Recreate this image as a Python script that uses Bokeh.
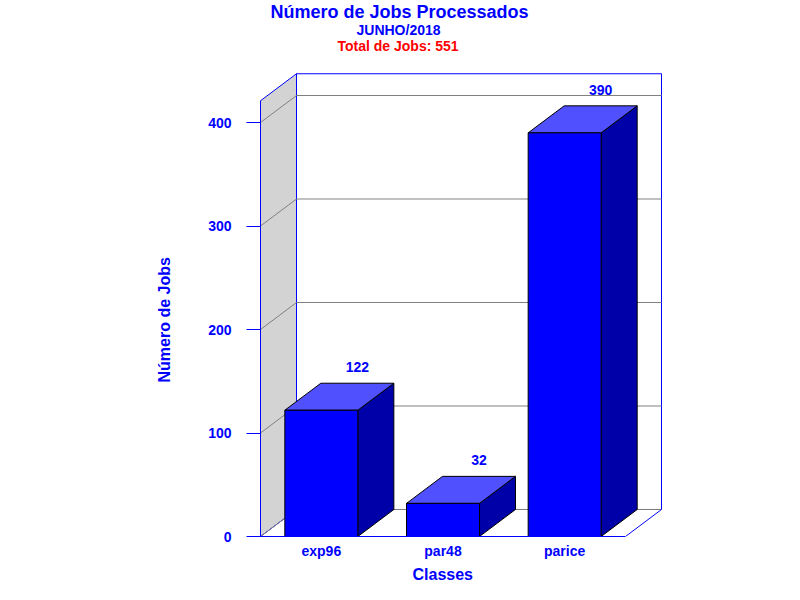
from bokeh.plotting import figure
from bokeh.models import FixedTicker, Title, Range1d
from bokeh.embed import file_html
from bokeh.resources import INLINE
from bokeh.core.properties import value

# ---- data ----
categories = ["exp96", "par48", "parice"]
jobs = [122, 32, 390]
y_ticks = [0, 100, 200, 300, 400]
y_top = 421
title_main = "Número de Jobs Processados"
subtitle = "JUNHO/2018"
total_text = "Total de Jobs: 551"
y_label = "Número de Jobs"
x_label = "Classes"

# ---- style / 3D geometry ----
FONT = "Liberation Sans"
BLUE = "#0000ff"
DX = 0.296      # depth offset in category units
DY = 26.1       # depth offset in value units
BW = 0.6        # bar width in category units
n = len(categories)
x0, x1 = -0.5, n - 0.5

p = figure(width=784, height=584, output_backend="svg", toolbar_location=None,
           x_range=Range1d(-0.5, -0.5 + 404 * 3 / 365),
           y_range=Range1d(0, 466 * 400 / 414),
           min_border_left=260, min_border_right=120,
           min_border_top=70, min_border_bottom=48,
           title=title_main)
p.outline_line_color = None
p.grid.visible = False
p.background_fill_color = "white"
p.border_fill_color = "white"
xa = p.xaxis[0]
ya = p.yaxis[0]

def style_title(t, size, color, offset, standoff):
    t.text_font = FONT
    t.text_font_size = size
    t.text_font_style = "bold"
    t.text_color = color
    t.align = "left"
    t.offset = offset
    t.standoff = standoff

# blank spacer between the plot area and the titles
gap = Title(text=" ")
style_title(gap, "14px", "white", 0, -0.6)
p.add_layout(gap, "above")

# titles (innermost added first; p.title is the outermost)
t3 = Title(text=total_text)
style_title(t3, "14px", "#ff0000", 77, -1.6)
p.add_layout(t3, "above")
t2 = Title(text=subtitle)
style_title(t2, "14px", BLUE, 96, -1.6)
p.add_layout(t2, "above")
style_title(p.title, "18px", BLUE, 10, -1.5)

# side wall (left, gray)
p.patch([x0, x0 + DX, x0 + DX, x0], [0, DY, y_top + DY, y_top],
        fill_color="#d3d3d3", line_color=BLUE, line_width=1)
# back wall
p.patch([x0 + DX, x1 + DX, x1 + DX, x0 + DX], [DY, DY, y_top + DY, y_top + DY],
        fill_color="white", line_color=BLUE, line_width=1)
# gridlines on back wall and side wall
p.segment(x0=[x0 + DX] * len(y_ticks), y0=[t + DY for t in y_ticks],
          x1=[x1 + DX] * len(y_ticks), y1=[t + DY for t in y_ticks],
          line_color="#808080", line_width=1)
p.segment(x0=[x0] * len(y_ticks), y0=y_ticks,
          x1=[x0 + DX] * len(y_ticks), y1=[t + DY for t in y_ticks],
          line_color="#808080", line_width=1)
# floor right edge
p.segment(x0=[x1], y0=[0], x1=[x1 + DX], y1=[DY], line_color=BLUE, line_width=1)

# bars
xs = list(range(n))
front_xs, front_ys, top_xs, top_ys, side_xs, side_ys = [], [], [], [], [], []
for i, v in zip(xs, jobs):
    l, r = i - BW / 2, i + BW / 2
    front_xs.append([l, r, r, l]); front_ys.append([0, 0, v, v])
    top_xs.append([l, r, r + DX, l + DX]); top_ys.append([v, v, v + DY, v + DY])
    side_xs.append([r, r + DX, r + DX, r]); side_ys.append([0, DY, v + DY, v])
p.patches(side_xs, side_ys, fill_color="#0000a8", line_color="black", line_width=1)
p.patches(top_xs, top_ys, fill_color="#5050ff", line_color="black", line_width=1)
p.patches(front_xs, front_ys, fill_color=BLUE, line_color="black", line_width=1)

# value labels
p.text(x=[i + DX for i in xs], y=[v + DY for v in jobs], text=[str(v) for v in jobs],
       text_font=value(FONT), text_font_size="14px", text_font_style="bold",
       text_color=BLUE, text_align="center", text_baseline="alphabetic", y_offset=-16)

# axes
xa.ticker = FixedTicker(ticks=xs)
xa.major_label_overrides = {i: c for i, c in zip(xs, categories)}
xa.bounds = (x0, x1)
xa.axis_line_color = BLUE
xa.major_tick_line_color = None
xa.minor_tick_line_color = None
xa.major_tick_out = 0
xa.major_tick_in = 0
xa.major_label_standoff = 6
xa.major_label_text_font = FONT
xa.major_label_text_font_size = "14px"
xa.major_label_text_font_style = "bold"
xa.major_label_text_color = BLUE

ya.ticker = FixedTicker(ticks=y_ticks)
ya.bounds = (0, y_top)
ya.axis_line_color = BLUE
ya.major_tick_line_color = BLUE
ya.minor_tick_line_color = None
ya.major_tick_out = 14
ya.major_tick_in = 0
ya.major_label_standoff = 15
ya.major_label_text_font = FONT
ya.major_label_text_font_size = "14px"
ya.major_label_text_font_style = "bold"
ya.major_label_text_color = BLUE

# axis titles (placed as titles so they can be centred on the front edge)
xt = Title(text=x_label)
style_title(xt, "16px", BLUE, 152, 4)
p.add_layout(xt, "below")
yt = Title(text=y_label)
style_title(yt, "16px", BLUE, 154, 65)
p.add_layout(yt, "left")

open("out.html", "w").write(file_html(p, INLINE))
